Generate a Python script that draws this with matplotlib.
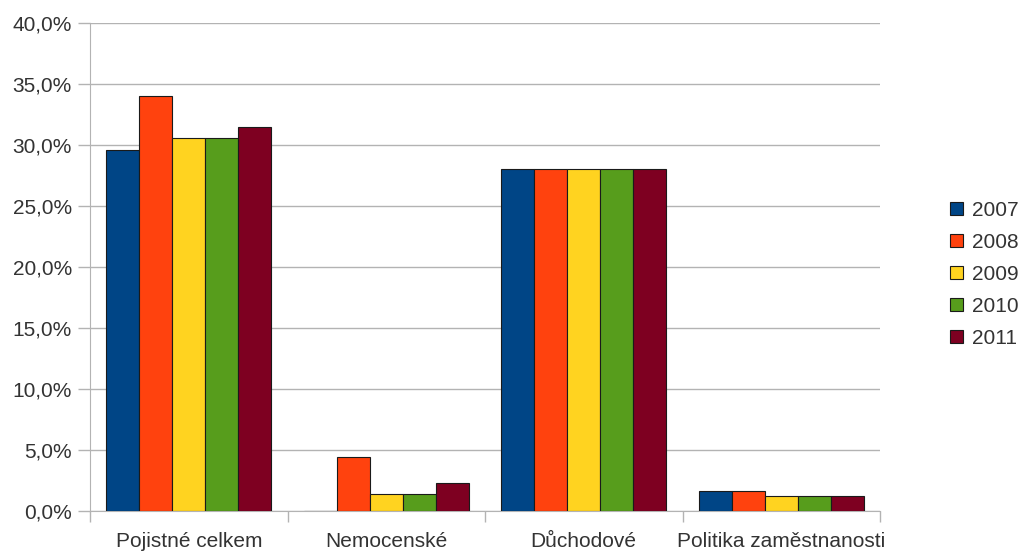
import numpy as np
import matplotlib.pyplot as plt
from matplotlib.ticker import FuncFormatter

categories = ['Pojistné celkem', 'Nemocenské', 'Důchodové', 'Politika zaměstnanosti']
years = ['2007', '2008', '2009', '2010', '2011']
values = {
    '2007': [29.6, 0.0, 28.0, 1.6],
    '2008': [34.0, 4.4, 28.0, 1.6],
    '2009': [30.6, 1.4, 28.0, 1.2],
    '2010': [30.6, 1.4, 28.0, 1.2],
    '2011': [31.5, 2.3, 28.0, 1.2],
}
colors = ['#004586', '#ff420e', '#ffd320', '#579d1c', '#7e0021']

plt.rcParams['font.family'] = ['Liberation Sans', 'DejaVu Sans']

fig = plt.figure(figsize=(10.19, 5.54), dpi=100)
ax = fig.add_axes([90 / 1019, 43 / 554, 790 / 1019, 488 / 554])

x = np.arange(len(categories))
width = 0.167
for i, y in enumerate(years):
    ax.bar(x + (i - 2) * width, values[y], width, color=colors[i],
           edgecolor='#1a1a1a', linewidth=0.8, label=y, zorder=3)

ax.set_xlim(-0.5, len(categories) - 0.5)
ax.set_ylim(0, 40)
ax.set_yticks(np.arange(0, 41, 5))
ax.yaxis.set_major_formatter(FuncFormatter(lambda v, p: ('%.1f%%' % v).replace('.', ',')))
ax.grid(axis='y', color='#b3b3b3', linewidth=1, zorder=0)

# category labels sit between the boundary ticks
ax.set_xticks(np.arange(-0.5, len(categories), 1.0))
ax.set_xticklabels([])
ax.set_xticks(x, minor=True)
ax.set_xticklabels(categories, minor=True)
ax.tick_params(axis='x', which='minor', length=0, pad=15, labelsize=15, labelcolor='#333333')
ax.tick_params(axis='x', which='major', length=8, color='#b3b3b3', width=1)
ax.tick_params(axis='y', length=9, color='#b3b3b3', width=1, labelsize=15,
               labelcolor='#333333', pad=4)

for s in ['top', 'right']:
    ax.spines[s].set_visible(False)
for s in ['left', 'bottom']:
    ax.spines[s].set_color('#b3b3b3')

ax.legend(loc='center left', bbox_to_anchor=(1.065, 0.485), frameon=False, fontsize=15,
          handlelength=0.6, handleheight=0.6, handletextpad=0.45, labelspacing=0.62,
          labelcolor='#333333')

plt.savefig('out.png', dpi=100)
